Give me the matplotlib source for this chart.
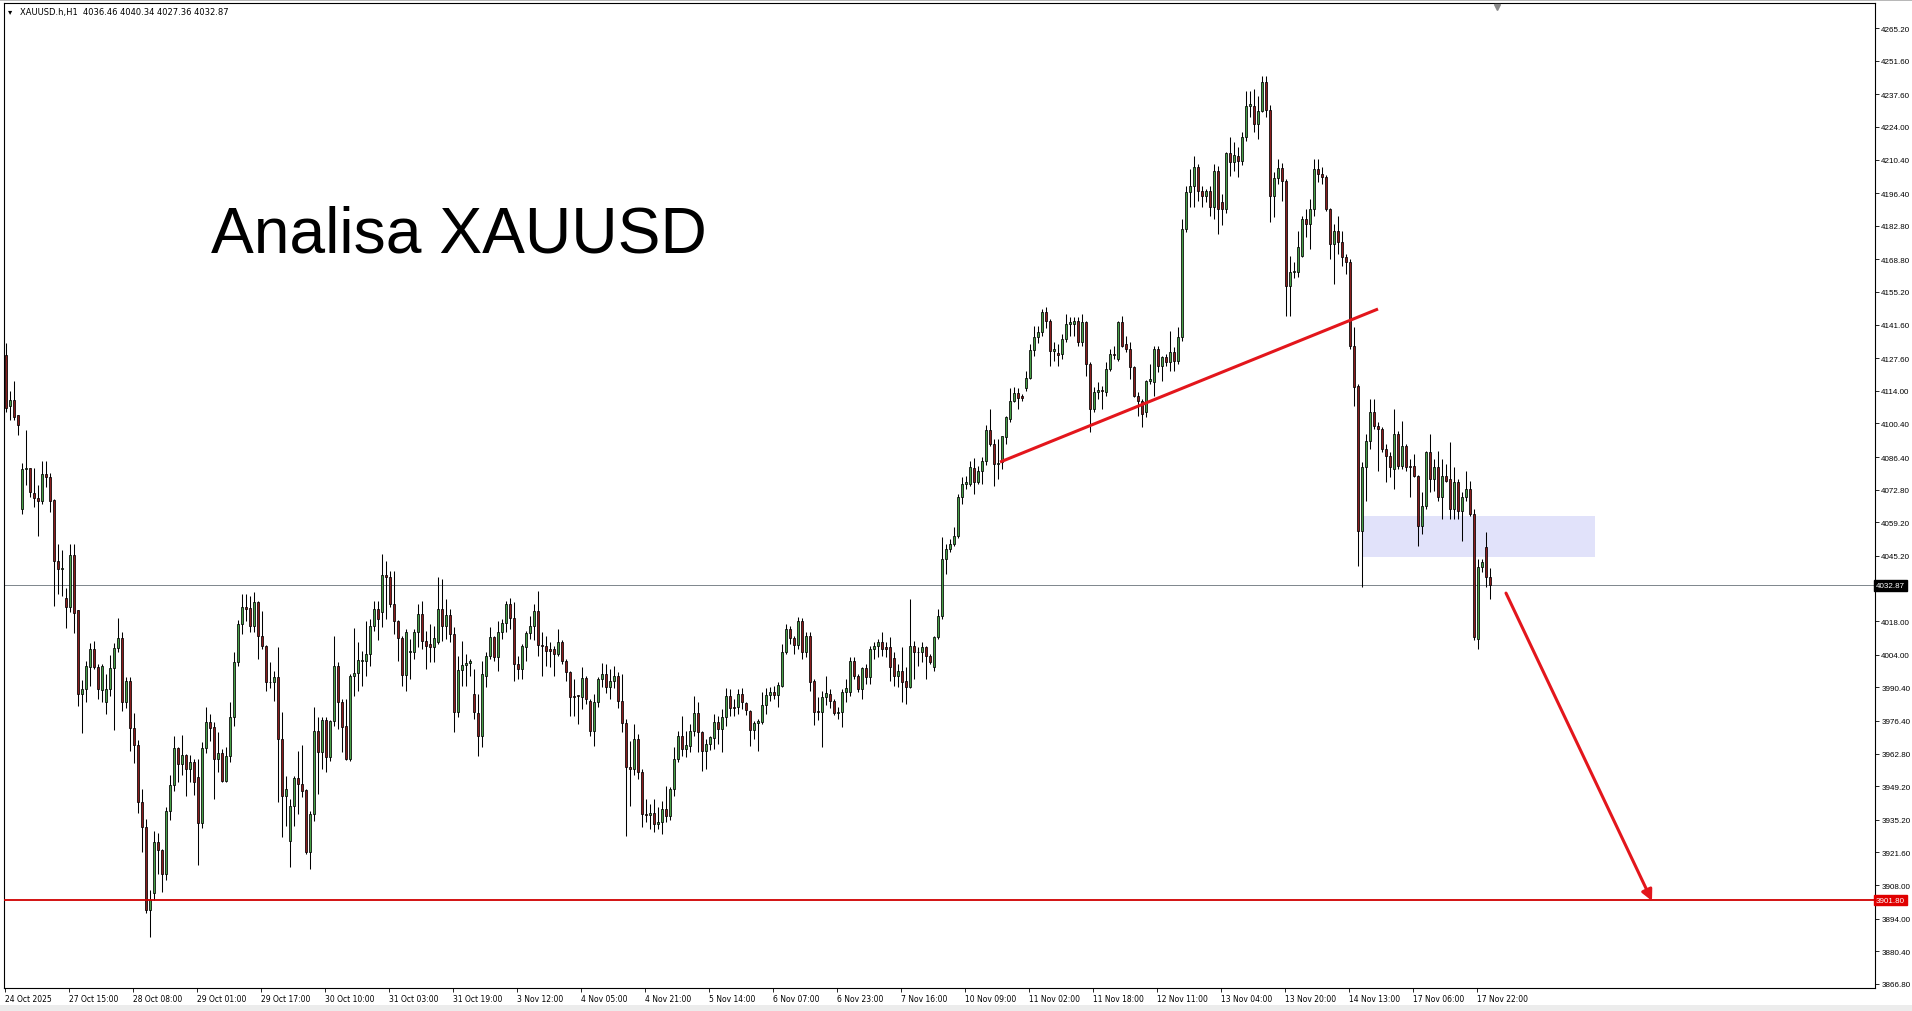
import matplotlib.pyplot as plt
from matplotlib.patches import Rectangle
import numpy as np

# XAUUSD H1 candles (oldest first)
opens = [
    4129.1, 4107.7, 4110.1, 4103.9, 4064.9, 4081.3, 4081.8, 4071.5, 4069.3, 4068.2,
    4079.2, 4078.0, 4068.7, 4043.0, 4039.7, 4027.8, 4023.7, 4045.6, 4022.6, 3987.5,
    3989.7, 3999.0, 4006.4, 3999.0, 3989.2, 3984.2, 3989.7, 3998.5, 4006.8, 4011.1,
    3984.2, 3993.0, 3973.5, 3966.6, 3942.6, 3932.4, 3897.5, 3904.7, 3926.1, 3922.8,
    3912.6, 3939.0, 3949.7, 3965.0, 3958.4, 3962.4, 3956.2, 3959.5, 3952.9, 3933.7,
    3965.0, 3976.0, 3973.8, 3960.6, 3963.0, 3951.5, 3962.0, 3977.9, 4001.1, 4016.8,
    4023.8, 4023.4, 4015.9, 4025.9, 4012.0, 4007.8, 3992.5, 3992.5, 3994.9, 3968.9,
    3945.3, 3926.5, 3941.1, 3952.5, 3950.2, 3947.8, 3921.7, 3937.7, 3972.4, 3963.4,
    3977.0, 3961.3, 3976.5, 3999.2, 3984.2, 3974.2, 3960.6, 3995.3, 3996.3, 4001.6,
    4001.6, 4004.3, 4016.1, 4023.1, 4021.7, 4037.3, 4036.3, 4025.2, 4018.2, 4010.9,
    3995.6, 4005.0, 4005.0, 4013.4, 4021.0, 4009.9, 4008.5, 4007.1, 4009.2, 4023.1,
    4016.1, 4020.6, 4012.7, 3980.3, 3997.8, 3999.8, 4000.6, 3987.7, 3979.8, 3970.3,
    3995.3, 4003.6, 4011.3, 4002.9, 4013.6, 4017.2, 4025.2, 4019.2, 4000.2, 3998.1,
    4007.1, 4013.1, 4015.9, 4022.4, 4008.1, 4007.8, 4006.4, 4006.4, 4004.3, 4009.5,
    4001.6, 3997.0, 3987.0, 3987.0, 3986.3, 3994.2, 3984.9, 3972.4, 3984.5, 3993.9,
    3996.0, 3990.4, 3993.2, 3995.0, 3984.9, 3975.6, 3957.1, 3956.4, 3968.9, 3955.0,
    3937.6, 3937.2, 3938.0, 3933.5, 3934.2, 3939.7, 3936.7, 3948.1, 3960.6, 3970.3,
    3964.7, 3966.1, 3972.4, 3979.7, 3971.7, 3964.0, 3966.8, 3969.2, 3975.8, 3973.1,
    3977.9, 3986.7, 3982.4, 3982.1, 3987.7, 3983.9, 3980.7, 3972.8, 3975.6, 3976.1,
    3983.1, 3987.2, 3988.4, 3987.2, 3991.1, 4005.3, 4014.7, 4010.9, 4008.1, 4018.2,
    4005.0, 4011.9, 3993.2, 3980.7, 3980.3, 3986.3, 3987.7, 3984.9, 3979.7, 3980.0,
    3988.6, 3988.4, 4001.5, 3995.3, 3989.7, 3998.4, 3994.6, 4006.4, 4007.8, 4009.5,
    4007.3, 4007.3, 4002.5, 3995.3, 3997.4, 3993.2, 3990.4, 4007.8, 4005.0, 4005.0,
    4007.1, 4003.4, 3998.8, 4011.3, 4020.0, 4043.9, 4048.1, 4050.2, 4053.6, 4069.6,
    4075.2, 4075.2, 4081.7, 4076.2, 4080.7, 4084.9, 4097.7, 4091.8, 4083.5, 4084.2,
    4094.6, 4102.2, 4109.9, 4113.1, 4111.7, 4115.0, 4119.2, 4131.1, 4136.3, 4138.4,
    4146.7, 4143.2, 4130.7, 4129.9, 4129.3, 4135.6, 4141.9, 4141.7, 4143.2, 4134.2,
    4142.5, 4125.2, 4106.4, 4113.4, 4114.5, 4113.4, 4123.1, 4129.3, 4127.3, 4142.5,
    4133.5, 4131.4, 4123.8, 4112.0, 4109.9, 4105.0, 4118.2, 4117.5, 4131.4, 4124.5,
    4128.0, 4125.9, 4130.0, 4126.6, 4136.3, 4181.4, 4196.7, 4199.5, 4207.1, 4197.4,
    4195.3, 4197.4, 4190.5, 4205.7, 4192.5, 4189.8, 4213.1, 4209.2, 4212.0, 4209.9,
    4219.6, 4232.8, 4232.8, 4225.2, 4230.7, 4242.6, 4231.0, 4195.3, 4202.5, 4206.7,
    4201.6, 4157.8, 4163.4, 4163.4, 4170.3, 4185.6, 4183.5, 4189.8, 4206.4, 4204.4,
    4203.0, 4189.8, 4175.2, 4180.7, 4175.9, 4169.6, 4167.5, 4132.8, 4116.0, 4055.7,
    4082.1, 4093.2, 4105.0, 4099.5, 4098.1, 4089.8, 4087.0, 4081.4, 4096.0, 4082.8,
    4091.2, 4082.8, 4082.8, 4078.6, 4057.8, 4066.2, 4088.4, 4077.2, 4082.1, 4069.6,
    4078.6, 4077.2, 4064.8, 4075.9, 4064.1, 4069.6, 4073.1, 4062.7, 4010.6, 4040.4,
    4049.0, 4036.46,
]
highs = [
    4134.0, 4113.8, 4117.9, 4103.9, 4083.8, 4097.8, 4081.8, 4081.8, 4074.7, 4084.6,
    4084.6, 4079.7, 4069.0, 4050.1, 4047.6, 4032.0, 4050.1, 4050.1, 4022.6, 3993.6,
    4001.5, 4008.9, 4009.7, 4000.0, 4000.0, 3995.8, 4004.0, 4008.9, 4019.3, 4013.4,
    3994.6, 3994.6, 3979.8, 3968.6, 3948.0, 3935.7, 3906.0, 3930.4, 3929.9, 3923.0,
    3940.6, 3953.8, 3970.2, 3965.6, 3970.6, 3962.8, 3962.4, 3960.4, 3960.4, 3967.8,
    3982.1, 3979.3, 3975.9, 3971.7, 3964.7, 3965.4, 3984.2, 4005.0, 4018.5, 4029.3,
    4029.3, 4028.6, 4030.0, 4026.6, 4022.4, 4008.0, 4000.9, 3997.4, 4007.1, 3980.0,
    3953.6, 3943.9, 3953.6, 3964.0, 3966.4, 3948.1, 3939.0, 3982.1, 3977.9, 3978.0,
    3978.0, 3977.0, 4012.0, 4000.9, 3985.6, 3985.6, 3996.0, 4015.0, 4009.2, 4005.7,
    4018.2, 4018.9, 4026.6, 4026.6, 4046.0, 4043.2, 4039.1, 4039.1, 4018.5, 4012.0,
    4014.7, 4010.6, 4014.7, 4025.2, 4026.6, 4014.0, 4016.8, 4016.1, 4036.3, 4035.6,
    4027.2, 4023.1, 4015.4, 4003.6, 4009.9, 4004.3, 4002.2, 3998.1, 3987.7, 4001.6,
    4005.0, 4015.4, 4012.0, 4018.2, 4018.9, 4026.6, 4027.5, 4025.9, 4003.6, 4008.5,
    4014.0, 4020.3, 4025.2, 4030.7, 4013.4, 4012.0, 4009.2, 4007.8, 4014.7, 4010.0,
    4002.2, 3997.4, 3993.9, 3987.2, 3998.8, 3995.3, 3985.6, 3987.7, 3994.6, 4000.6,
    4000.2, 3998.1, 3999.5, 3996.7, 3996.0, 3977.2, 3968.2, 3975.1, 3971.0, 3956.4,
    3943.9, 3941.8, 3943.9, 3940.4, 3943.2, 3949.5, 3948.8, 3965.4, 3972.4, 3978.6,
    3972.4, 3975.1, 3986.9, 3984.2, 3972.4, 3968.9, 3970.3, 3979.3, 3978.6, 3981.4,
    3990.0, 3989.7, 3985.6, 3989.7, 3990.0, 3984.2, 3981.0, 3976.5, 3977.2, 3988.3,
    3990.0, 3990.4, 3991.1, 3992.8, 4008.5, 4016.8, 4016.1, 4012.0, 4019.6, 4019.2,
    4013.4, 4013.6, 3993.9, 3986.3, 3989.0, 3995.0, 3989.7, 3985.6, 3982.1, 3989.7,
    3993.9, 4002.9, 4002.9, 3996.0, 3998.8, 4000.2, 4007.8, 4009.2, 4010.6, 4013.6,
    4009.2, 4011.3, 4005.0, 4000.2, 4007.1, 3998.8, 4027.2, 4009.9, 4007.1, 4009.2,
    4007.5, 4004.3, 4012.0, 4023.1, 4052.9, 4050.2, 4052.2, 4057.1, 4071.0, 4077.9,
    4078.6, 4084.9, 4085.9, 4082.8, 4086.3, 4099.8, 4106.4, 4093.9, 4093.9, 4095.3,
    4103.6, 4115.0, 4115.5, 4115.0, 4112.7, 4122.4, 4133.5, 4141.1, 4141.1, 4148.1,
    4148.8, 4143.9, 4134.2, 4133.5, 4137.7, 4146.0, 4144.6, 4144.6, 4144.6, 4146.0,
    4143.2, 4125.9, 4115.5, 4117.5, 4116.2, 4125.9, 4131.4, 4132.8, 4143.2, 4145.3,
    4137.0, 4134.2, 4124.5, 4113.4, 4110.6, 4118.5, 4125.2, 4132.8, 4132.8, 4128.6,
    4129.3, 4139.1, 4132.1, 4140.5, 4185.6, 4199.5, 4206.4, 4212.0, 4208.5, 4199.5,
    4198.1, 4199.5, 4208.5, 4207.8, 4196.0, 4213.4, 4219.6, 4217.5, 4215.5, 4221.7,
    4239.1, 4239.1, 4239.8, 4237.0, 4245.3, 4245.0, 4233.0, 4205.1, 4210.6, 4209.0,
    4202.3, 4170.3, 4167.5, 4180.7, 4187.0, 4189.8, 4193.9, 4210.6, 4210.6, 4207.1,
    4204.0, 4190.0, 4183.5, 4187.0, 4180.7, 4171.0, 4168.9, 4140.5, 4117.0, 4084.2,
    4096.0, 4110.6, 4110.6, 4100.9, 4099.0, 4091.8, 4088.4, 4106.4, 4097.4, 4101.6,
    4092.0, 4085.6, 4087.7, 4079.0, 4071.7, 4089.1, 4096.0, 4085.6, 4089.0, 4085.6,
    4083.5, 4092.5, 4082.1, 4077.2, 4071.7, 4080.7, 4076.6, 4064.8, 4043.9, 4043.9,
    4055.0, 4040.34,
]
lows = [
    4105.2, 4101.9, 4101.9, 4095.7, 4062.7, 4074.7, 4069.8, 4065.4, 4053.4, 4067.0,
    4073.9, 4063.7, 4024.2, 4029.5, 4028.7, 4015.0, 4022.0, 4013.0, 3982.6, 3971.6,
    3984.2, 3990.8, 3997.9, 3985.4, 3984.2, 3979.3, 3987.0, 3972.7, 4005.0, 3980.4,
    3982.0, 3964.0, 3959.0, 3938.2, 3921.7, 3896.2, 3886.3, 3901.9, 3912.6, 3905.2,
    3910.0, 3935.0, 3947.2, 3950.8, 3953.8, 3945.2, 3950.8, 3945.6, 3916.3, 3932.0,
    3963.0, 3968.0, 3943.9, 3955.0, 3950.8, 3950.8, 3959.5, 3974.5, 3999.5, 4012.7,
    4018.2, 4013.4, 4013.4, 4002.2, 4006.4, 3989.0, 3990.0, 3984.9, 3942.5, 3927.9,
    3932.8, 3915.4, 3932.8, 3937.7, 3944.6, 3921.0, 3914.7, 3934.9, 3946.0, 3956.4,
    3955.0, 3959.9, 3974.5, 3973.1, 3963.4, 3960.0, 3959.9, 3987.0, 3989.0, 3991.1,
    3995.3, 3999.5, 4014.0, 4010.0, 4015.4, 4018.9, 4023.8, 4012.7, 4001.6, 3991.1,
    3989.0, 3994.0, 4002.2, 4007.1, 4006.4, 3998.1, 4000.9, 4000.9, 4008.5, 4009.9,
    4010.6, 4009.2, 3971.7, 3978.0, 3991.1, 3991.1, 3995.3, 3977.2, 3962.0, 3965.4,
    3990.4, 4002.2, 4001.6, 3997.4, 4010.6, 4013.4, 4014.7, 3993.2, 3993.9, 3993.9,
    4001.6, 4010.6, 4010.0, 4003.6, 3995.3, 3999.5, 3998.8, 3995.3, 4003.6, 4000.2,
    3993.0, 3978.6, 3978.6, 3975.2, 3981.4, 3983.5, 3970.0, 3966.1, 3982.1, 3990.4,
    3988.0, 3985.6, 3990.0, 3982.0, 3971.7, 3928.6, 3941.1, 3954.0, 3952.2, 3932.1,
    3934.2, 3931.4, 3930.0, 3931.4, 3929.3, 3934.5, 3935.0, 3945.3, 3959.2, 3962.0,
    3961.3, 3963.3, 3970.0, 3963.3, 3955.7, 3956.4, 3964.4, 3964.7, 3967.0, 3963.6,
    3974.5, 3978.6, 3978.6, 3979.3, 3981.4, 3979.0, 3966.1, 3968.9, 3964.0, 3975.1,
    3979.3, 3984.9, 3985.6, 3982.1, 3990.4, 4004.3, 4008.5, 4004.3, 4006.4, 4002.2,
    4002.9, 3989.0, 3974.7, 3977.0, 3965.4, 3983.0, 3982.0, 3978.8, 3977.2, 3973.8,
    3984.2, 3987.0, 3993.9, 3988.4, 3985.6, 3992.0, 3992.0, 4002.2, 4002.9, 4003.6,
    4002.9, 3993.2, 3991.1, 3990.4, 3984.2, 3983.5, 3990.0, 3993.9, 3999.5, 4000.9,
    3993.9, 4000.2, 3997.4, 4010.6, 4018.9, 4037.7, 4046.7, 4049.5, 4052.5, 4066.8,
    4073.1, 4074.5, 4071.0, 4075.2, 4075.2, 4083.0, 4091.1, 4074.2, 4077.3, 4081.4,
    4092.0, 4100.9, 4109.2, 4106.4, 4109.9, 4114.0, 4118.9, 4128.6, 4134.0, 4137.0,
    4140.0, 4124.5, 4126.6, 4124.5, 4127.3, 4134.2, 4137.0, 4137.0, 4132.8, 4132.8,
    4120.3, 4096.7, 4105.0, 4110.6, 4106.4, 4112.0, 4122.4, 4127.3, 4126.6, 4132.1,
    4130.0, 4118.9, 4111.3, 4103.7, 4098.8, 4103.0, 4116.9, 4112.0, 4121.7, 4118.2,
    4124.5, 4122.4, 4122.4, 4125.2, 4134.9, 4180.0, 4190.5, 4190.5, 4193.2, 4190.5,
    4192.5, 4187.0, 4185.6, 4179.4, 4183.0, 4188.0, 4203.7, 4205.7, 4203.0, 4208.0,
    4218.2, 4228.0, 4221.7, 4218.9, 4230.0, 4228.0, 4184.2, 4186.3, 4200.0, 4193.2,
    4145.3, 4145.3, 4161.0, 4161.3, 4169.6, 4178.0, 4173.1, 4187.0, 4200.9, 4200.2,
    4189.1, 4168.9, 4158.5, 4171.0, 4166.0, 4162.7, 4131.4, 4107.8, 4041.1, 4032.1,
    4068.2, 4089.8, 4098.1, 4080.7, 4088.4, 4075.9, 4078.0, 4073.1, 4081.4, 4081.4,
    4080.7, 4069.6, 4077.9, 4049.5, 4054.3, 4064.8, 4071.7, 4072.4, 4068.2, 4060.6,
    4075.9, 4060.6, 4060.6, 4060.6, 4051.6, 4068.0, 4062.0, 4010.0, 4006.4, 4038.4,
    4032.1, 4027.36,
]
closes = [
    4106.8, 4110.1, 4103.2, 4099.8, 4081.3, 4081.8, 4071.9, 4069.3, 4068.2, 4079.2,
    4078.0, 4068.2, 4043.0, 4039.7, 4040.2, 4023.7, 4045.6, 4021.6, 3987.5, 3989.7,
    3999.5, 4006.4, 3999.0, 3989.7, 3999.5, 3989.7, 3998.5, 4006.8, 4011.1, 3984.2,
    3993.0, 3973.5, 3966.6, 3942.6, 3932.4, 3897.5, 3901.9, 3926.1, 3922.8, 3912.6,
    3939.0, 3949.7, 3965.0, 3958.4, 3962.4, 3956.2, 3959.5, 3950.8, 3933.7, 3965.0,
    3976.0, 3973.5, 3960.6, 3963.0, 3951.5, 3962.0, 3977.9, 4001.1, 4016.8, 4023.8,
    4023.1, 4015.9, 4025.9, 4012.0, 4007.8, 3992.5, 3992.8, 3994.9, 3968.9, 3945.3,
    3948.1, 3941.1, 3952.5, 3950.2, 3947.4, 3921.7, 3937.7, 3972.4, 3963.4, 3977.0,
    3961.3, 3976.5, 3999.2, 3984.2, 3973.8, 3960.6, 3995.3, 3996.3, 4002.0, 4001.9,
    4004.3, 4016.1, 4023.1, 4018.9, 4037.3, 4036.3, 4025.2, 4018.2, 4010.9, 3995.6,
    4013.4, 4005.7, 4013.4, 4021.0, 4009.9, 4007.8, 4007.1, 4010.9, 4023.1, 4016.1,
    4020.6, 4012.7, 3980.3, 3997.8, 3999.8, 4000.6, 4001.6, 3980.0, 3970.3, 3996.0,
    4003.6, 4011.3, 4002.9, 4013.6, 4017.2, 4025.2, 4019.2, 4000.2, 3998.1, 4007.8,
    4013.1, 4015.9, 4022.4, 4008.1, 4007.5, 4005.7, 4005.7, 4004.3, 4009.5, 4001.6,
    3996.7, 3986.3, 3986.3, 3986.7, 3994.2, 3985.6, 3972.4, 3984.5, 3993.9, 3996.0,
    3990.4, 3993.2, 3995.0, 3984.9, 3975.6, 3957.1, 3956.4, 3968.9, 3955.0, 3937.6,
    3937.2, 3937.9, 3933.5, 3934.5, 3939.7, 3936.7, 3948.1, 3960.6, 3970.3, 3964.7,
    3966.4, 3972.4, 3979.7, 3971.7, 3964.0, 3966.8, 3969.6, 3975.8, 3973.1, 3977.9,
    3986.7, 3981.7, 3981.7, 3987.7, 3984.2, 3981.1, 3972.8, 3975.6, 3976.3, 3983.1,
    3987.2, 3988.4, 3987.2, 3991.4, 4005.3, 4014.7, 4010.9, 4008.1, 4018.2, 4005.0,
    4011.9, 3992.8, 3980.0, 3980.0, 3986.3, 3987.9, 3984.9, 3979.7, 3980.0, 3988.6,
    3990.0, 4001.5, 3995.3, 3989.7, 3998.4, 3994.6, 4006.4, 4007.8, 4009.5, 4006.4,
    4006.4, 3998.8, 3995.3, 3997.4, 3992.5, 3990.4, 4007.8, 4005.0, 4005.3, 4007.1,
    4003.4, 4000.9, 4011.3, 4020.0, 4043.9, 4048.1, 4050.2, 4053.6, 4069.6, 4075.2,
    4076.2, 4082.1, 4076.2, 4080.7, 4084.9, 4097.7, 4091.8, 4083.5, 4083.8, 4095.0,
    4102.9, 4109.9, 4113.1, 4110.9, 4110.9, 4119.2, 4131.1, 4136.3, 4138.4, 4146.7,
    4143.2, 4130.7, 4131.4, 4128.8, 4135.6, 4141.9, 4142.5, 4143.2, 4134.2, 4142.5,
    4125.2, 4106.4, 4113.4, 4114.5, 4114.0, 4123.1, 4129.3, 4129.0, 4142.5, 4132.8,
    4131.4, 4123.8, 4112.0, 4109.9, 4104.4, 4118.2, 4118.9, 4131.4, 4124.5, 4128.0,
    4125.9, 4130.0, 4126.6, 4136.3, 4181.4, 4196.7, 4199.5, 4207.1, 4197.4, 4195.3,
    4197.4, 4190.5, 4205.7, 4189.8, 4189.8, 4213.1, 4209.2, 4212.3, 4209.9, 4219.6,
    4232.8, 4233.5, 4225.2, 4230.7, 4242.6, 4231.0, 4195.3, 4202.5, 4206.7, 4201.6,
    4157.8, 4163.4, 4164.1, 4173.8, 4185.6, 4183.5, 4189.8, 4206.4, 4204.4, 4203.0,
    4189.8, 4175.2, 4180.7, 4175.9, 4169.6, 4167.5, 4132.8, 4115.4, 4055.7, 4082.1,
    4093.2, 4105.0, 4099.5, 4098.1, 4089.8, 4087.0, 4082.1, 4096.0, 4082.8, 4091.2,
    4082.1, 4082.1, 4078.6, 4057.8, 4066.2, 4088.4, 4077.2, 4082.1, 4069.6, 4078.6,
    4076.6, 4064.8, 4075.9, 4064.1, 4069.6, 4073.1, 4062.7, 4011.3, 4040.4, 4042.5,
    4036.3, 4032.87,
]

time_labels = [
    "24 Oct 2025", "27 Oct 15:00", "28 Oct 08:00", "29 Oct 01:00", "29 Oct 17:00",
    "30 Oct 10:00", "31 Oct 03:00", "31 Oct 19:00", "3 Nov 12:00", "4 Nov 05:00",
    "4 Nov 21:00", "5 Nov 14:00", "6 Nov 07:00", "6 Nov 23:00", "7 Nov 16:00",
    "10 Nov 09:00", "11 Nov 02:00", "11 Nov 18:00", "12 Nov 11:00", "13 Nov 04:00",
    "13 Nov 20:00", "14 Nov 13:00", "17 Nov 06:00", "17 Nov 22:00",
]
price_ticks = [
    4265.20, 4251.60, 4237.60, 4224.00, 4210.40, 4196.40, 4182.80, 4168.80,
    4155.20, 4141.60, 4127.60, 4114.00, 4100.40, 4086.40, 4072.80, 4059.20,
    4045.20, 4018.00, 4004.00, 3990.40, 3976.40, 3962.80, 3949.20, 3935.20,
    3921.60, 3908.00, 3894.00, 3880.40, 3866.80,
]

last_price = 4032.87
support_level = 3901.80
header_text = "XAUUSD.h,H1  4036.46 4040.34 4027.36 4032.87"
title_text = "Analisa XAUUSD"

# drawn objects (bar index, price)
trend_x = [248.5, 343.0]
trend_y = [4084.3, 4148.1]
arrow_from = (375.0, 4029.7)
arrow_to = (411.5, 3901.4)
zone_x = [338.9, 397.3]
zone_y = [4044.6, 4062.0]

assert len(opens) == len(highs) == len(lows) == len(closes)

W, H = 1912, 1012
bull = "#46a046"
bear = "#8a1c1c"
scale_font = "Liberation Sans"

fig = plt.figure(figsize=(W / 100, H / 100), dpi=100, facecolor="white")
ax = fig.add_axes([4 / W, 1 - 989 / H, (1875 - 4) / W, (989 - 4) / H])

x = np.arange(len(closes))
o = np.array(opens)
c = np.array(closes)
up = c >= o
body_low = np.minimum(o, c)
body_h = np.maximum(np.abs(c - o), 0.35)

# demand zone behind the candles
ax.add_patch(
    Rectangle(
        (zone_x[0], zone_y[0]),
        zone_x[1] - zone_x[0],
        zone_y[1] - zone_y[0],
        facecolor="#e1e2fa",
        edgecolor="none",
        zorder=0.5,
    )
)

ax.axhline(last_price, color="#7d868c", lw=0.7, zorder=1)

ax.vlines(x, lows, highs, color="black", linewidth=0.75, zorder=2)
ax.bar(x[up], body_h[up], bottom=body_low[up], width=0.62,
       color=bull, edgecolor="black", linewidth=0.55, zorder=3)
ax.bar(x[~up], body_h[~up], bottom=body_low[~up], width=0.62,
       color=bear, edgecolor="black", linewidth=0.55, zorder=3)

ax.axhline(support_level, color="#d00000", lw=1.3, zorder=4)

ax.plot(trend_x, trend_y, color="#e3161c", lw=2.2, solid_capstyle="butt", zorder=5)
ax.annotate(
    "",
    xy=arrow_to,
    xytext=arrow_from,
    arrowprops=dict(arrowstyle="-|>", color="#e3161c", lw=2.2,
                    mutation_scale=16, shrinkA=0, shrinkB=0),
    zorder=5,
)

ax.set_xlim(-0.5, 467.25)
ax.set_ylim(3865.13, 4275.62)

# axes styling like the terminal
for side in ["left", "right", "top", "bottom"]:
    ax.spines[side].set_color("black")
    ax.spines[side].set_linewidth(0.8)

ax.yaxis.tick_right()
ax.set_yticks(price_ticks)
ax.set_yticklabels([f"{p:.2f}" for p in price_ticks], fontfamily=scale_font)
ax.tick_params(axis="y", direction="out", length=3, width=0.6, pad=1.5,
               labelsize=5.8, labelcolor="black")

label_step = 16
ax.set_xticks(np.arange(len(time_labels)) * label_step - 0.35)
ax.set_xticklabels(time_labels, ha="left")
ax.tick_params(axis="x", direction="out", length=3, width=0.6, pad=1.5,
               labelsize=5.5, labelcolor="black")

# price tags on the scale
ax.text(1.0006, last_price, f"{last_price:.2f}", transform=ax.get_yaxis_transform(),
        color="white", fontsize=5.8, fontfamily=scale_font, va="center", ha="left",
        bbox=dict(boxstyle="square,pad=0.22", facecolor="black", edgecolor="black"))
ax.text(1.0006, support_level, f"{support_level:.2f}", transform=ax.get_yaxis_transform(),
        color="white", fontsize=5.8, fontfamily=scale_font, va="center", ha="left",
        bbox=dict(boxstyle="square,pad=0.22", facecolor="#e00000", edgecolor="#e00000"))

# chart shift marker
ax.plot([372.75], [4274.0], marker="v", color="#8a8a8a", markersize=4,
        clip_on=False, zorder=6)

# header and title
fig.text(8 / W, 1 - 12 / H, "\u25be", fontsize=6, va="center", ha="left")
fig.text(20 / W, 1 - 12 / H, header_text, fontsize=6, va="center", ha="left")
fig.text(211 / W, 1 - 252.5 / H, title_text, fontsize=46.2, family="Liberation Sans",
         va="baseline", ha="left")

# window frame bits
fig.patches.append(Rectangle((0, 0), 1, 6 / H, transform=fig.transFigure,
                             facecolor="#ececec", edgecolor="none"))
fig.patches.append(Rectangle((0, 1 - 2 / H), 1, 2 / H, transform=fig.transFigure,
                             facecolor="#b8b8b8", edgecolor="none"))

fig.savefig("out.png", dpi=100, facecolor="white")
plt.close(fig)
